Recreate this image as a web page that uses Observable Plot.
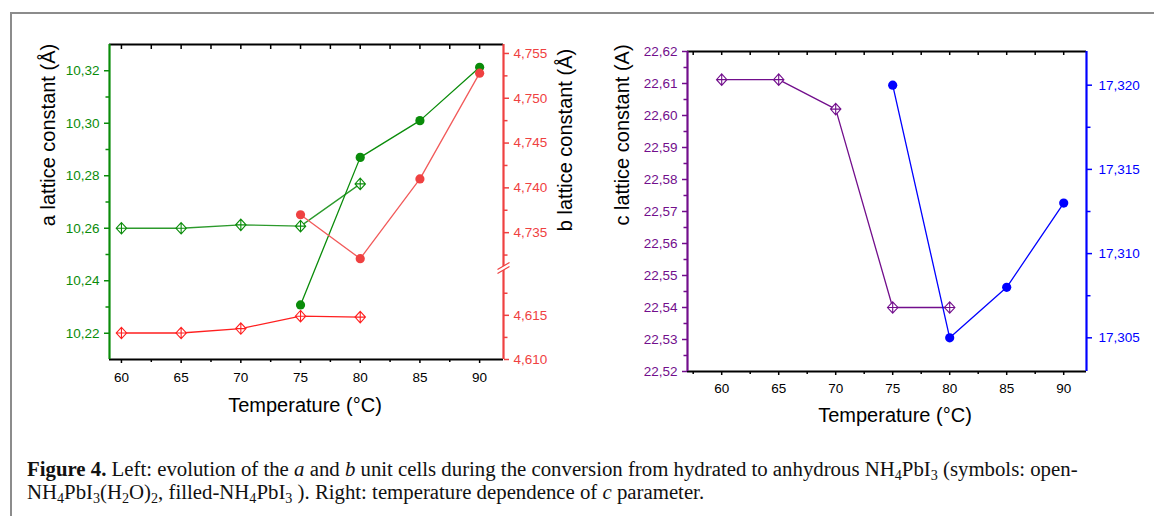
<!DOCTYPE html>
<html><head><meta charset="utf-8">
<script src="https://cdn.jsdelivr.net/npm/d3@7"></script>
<script src="https://cdn.jsdelivr.net/npm/@observablehq/plot@0.6"></script>
<style>
html,body{margin:0;padding:0;background:#fff;}
#fig{position:relative;width:1154px;height:516px;overflow:hidden;background:#fff;font-family:"Liberation Sans",Arial,sans-serif;}
.layer{position:absolute;top:0;}
.layer svg{display:block;max-width:none;}
.title{position:absolute;font-size:20px;line-height:1;white-space:nowrap;color:#000;transform:translate(-50%,-50%);}
.title.rot{transform:translate(-50%,-50%) rotate(-90deg);}
.caption{position:absolute;left:27px;top:457px;font-family:"Liberation Serif","Times New Roman",serif;font-size:20.8px;line-height:23px;color:#111;white-space:nowrap;}
.caption sub{font-size:0.68em;line-height:0;vertical-align:-0.3em;}
.bt{position:absolute;left:10px;top:12px;right:0;height:2px;background:#8c8c8c;}
.bl{position:absolute;left:10px;top:12px;bottom:0;width:2px;background:#8c8c8c;}
</style></head>
<body>
<div id="fig">
  <div class="bt"></div><div class="bl"></div>
</div>
<script>
// ---------- data ----------
const aOpenT = [60, 65, 70, 75, 80];
const aOpenV = [10.2600, 10.2600, 10.2613, 10.2608, 10.2769];
const aFilledT = [75, 80, 85, 90];
const aFilledV = [10.2308, 10.2870, 10.3010, 10.3213];
const bOpenT = [60, 65, 70, 75, 80];
const bOpenV = [4.6130, 4.6130, 4.6135, 4.6149, 4.6148];
const bFilledT = [75, 80, 85, 90];
const bFilledV = [4.7370, 4.7321, 4.7410, 4.7528];
const cOpenT = [60, 65, 70, 75, 80];
const cOpenV = [22.6112, 22.6112, 22.6020, 22.5400, 22.5400];
const cFilledT = [75, 80, 85, 90];
const cFilledV = [17.3200, 17.3050, 17.3080, 17.3130];

// ---------- scales / ticks ----------
const xDomainLeft = [59, 92];
const xDomainRight = [57, 92];
const xTicks = [60, 65, 70, 75, 80, 85, 90];
const xMinorLeft = [62.5, 67.5, 72.5, 77.5, 82.5, 87.5];
const xMinorRight = [57.5, 62.5, 67.5, 72.5, 77.5, 82.5, 87.5];
const aDomain = [10.21, 10.33];
const aTicks = [10.22, 10.24, 10.26, 10.28, 10.30, 10.32];
const aMinor = [10.23, 10.25, 10.27, 10.29, 10.31];
const bUpperDomain = [4.731, 4.756];
const bUpperTicks = [4.735, 4.740, 4.745, 4.750, 4.755];
const bUpperMinor = [4.7325, 4.7375, 4.7425, 4.7475, 4.7525];
const bLowerDomain = [4.610, 4.6203];
const bLowerTicks = [4.610, 4.615];
const bLowerMinor = [4.6125, 4.6175];
const cDomain = [22.52, 22.62];
const cTicks = [22.52, 22.53, 22.54, 22.55, 22.56, 22.57, 22.58, 22.59, 22.60, 22.61, 22.62];
const cMinor = [22.525, 22.535, 22.545, 22.555, 22.565, 22.575, 22.585, 22.595, 22.605, 22.615];
const dDomain = [17.303, 17.322];
const dTicks = [17.305, 17.310, 17.315, 17.320];
const dMinor = [17.3075, 17.3125, 17.3175];

const GREEN = "#0a8c0a", RED = "#ef4141", RED_OPEN = "#ff1f1f", PURPLE = "#720e8c", BLUE = "#0000ff";

const rows = (T, V) => T.map((t, i) => ({T: t, v: V[i]}));
const aOpen = rows(aOpenT, aOpenV), aFilled = rows(aFilledT, aFilledV);
const bOpen = rows(bOpenT, bOpenV), bFilled = rows(bFilledT, bFilledV);
const cOpen = rows(cOpenT, cOpenV), cFilled = rows(cFilledT, cFilledV);

const fmt = n => d => d.toFixed(n).replace(".", ",");
const crossedDiamond = {draw(ctx, size) {
  const r = Math.sqrt(size / Math.PI), h = r * 1.1;
  ctx.moveTo(0, -h); ctx.lineTo(r, 0); ctx.lineTo(0, h); ctx.lineTo(-r, 0); ctx.closePath();
  ctx.moveTo(0, -h); ctx.lineTo(0, h); ctx.moveTo(-r, 0); ctx.lineTo(r, 0);
}};
const breakMask = {draw(ctx) { ctx.moveTo(-7, 1); ctx.lineTo(7, -6); ctx.lineTo(7, -2); ctx.lineTo(-7, 5); ctx.closePath(); }};
const breakSlashes = {draw(ctx) { ctx.moveTo(-6, 1); ctx.lineTo(6, -6); ctx.moveTo(-6, 5); ctx.lineTo(6, -2); }};

const FONT = {background: "transparent", overflow: "visible", fontFamily: "'Liberation Sans', Arial, sans-serif", fontSize: "13.5px"};
const fig = document.getElementById("fig");

function layer({left, width, height, mt, mb, ml, mr, xDomain, yDomain, xAxis, marks}) {
  const svg = Plot.plot({
    width, height, marginTop: mt, marginBottom: mb, marginLeft: ml, marginRight: mr,
    x: xAxis ? {domain: xDomain, label: null} : {domain: xDomain, label: null, axis: null},
    y: {domain: yDomain, label: null},
    style: FONT,
    marks
  });
  const div = document.createElement("div");
  div.className = "layer";
  div.style.left = left + "px";
  div.appendChild(svg);
  fig.appendChild(div);
}

function series(data, color, open, lineColor, lineWidth) {
  return [
    Plot.line(data, {x: "T", y: "v", stroke: lineColor || color, strokeWidth: lineWidth || 1.3}),
    open
      ? Plot.dot(data, {x: "T", y: "v", symbol: crossedDiamond, r: 5.2, stroke: color, fill: "white", strokeWidth: 1.1})
      : Plot.dot(data, {x: "T", y: "v", r: 4.6, fill: color, stroke: "none"})
  ];
}

// ---------- LEFT PANEL ----------
const L = {left: 0, width: 600, height: 430, ml: 109, mr: 97};
const Lmt = 44, Lmb = 71, LplotH = L.height - Lmt - Lmb;
const xAll = [...xTicks, ...xMinorLeft];

layer({...L, mt: Lmt, mb: Lmb, xDomain: xDomainLeft, yDomain: aDomain, xAxis: true, marks: [
  Plot.ruleY([aDomain[1]], {stroke: "black", strokeWidth: 2}),
  Plot.ruleY([aDomain[0]], {stroke: "black", strokeWidth: 2}),
  Plot.ruleX(xAll, {x: d => d, insetBottom: LplotH - 5, stroke: "black", strokeWidth: 1.5}),
  Plot.axisX(xTicks, {anchor: "bottom", tickSize: 4, tickPadding: 9, tickFormat: d => String(d), color: "black", strokeWidth: 1.5, label: null, fontSize: 13.5}),
  Plot.axisX(xMinorLeft, {anchor: "bottom", tickSize: 3, tickFormat: () => "", color: "black", strokeWidth: 1.5, label: null}),
  Plot.axisY(aTicks, {anchor: "left", tickSize: 5, tickPadding: 5, tickFormat: fmt(2), color: GREEN, strokeWidth: 1.5, label: null, fontSize: 13.5}),
  Plot.axisY(aMinor, {anchor: "left", tickSize: 3.5, tickFormat: () => "", color: GREEN, strokeWidth: 1.5, label: null}),
  Plot.ruleX([xDomainLeft[0]], {stroke: GREEN, strokeWidth: 2.2}),
  ...series(aOpen, GREEN, true, "#2c9a2c"),
  ...series(aFilled, GREEN, false)
]});

const upperMb = 430 - 268;
layer({...L, mt: Lmt, mb: upperMb, xDomain: xDomainLeft, yDomain: bUpperDomain, xAxis: false, marks: [
  Plot.axisY(bUpperTicks, {anchor: "right", tickSize: 5, tickPadding: 5, tickFormat: fmt(3), color: RED, strokeWidth: 1.5, label: null, fontSize: 13.5}),
  Plot.axisY(bUpperMinor, {anchor: "right", tickSize: 3.5, tickFormat: () => "", color: RED, strokeWidth: 1.5, label: null}),
  Plot.ruleX([xDomainLeft[1]], {stroke: RED, strokeWidth: 2.2}),
  ...series(bFilled, RED, false, "#f25a5a")
]});

layer({...L, mt: 268, mb: Lmb, xDomain: xDomainLeft, yDomain: bLowerDomain, xAxis: false, marks: [
  Plot.axisY(bLowerTicks, {anchor: "right", tickSize: 5, tickPadding: 5, tickFormat: fmt(3), color: RED, strokeWidth: 1.5, label: null, fontSize: 13.5}),
  Plot.axisY(bLowerMinor, {anchor: "right", tickSize: 3.5, tickFormat: () => "", color: RED, strokeWidth: 1.5, label: null}),
  Plot.ruleX([xDomainLeft[1]], {stroke: RED, strokeWidth: 2.2}),
  ...series(bOpen, RED_OPEN, true),
  Plot.dot([bLowerDomain[1]], {x: () => xDomainLeft[1], y: d => d, symbol: breakMask, r: 5, fill: "white", stroke: "none"}),
  Plot.dot([bLowerDomain[1]], {x: () => xDomainLeft[1], y: d => d, symbol: breakSlashes, r: 5, fill: "none", stroke: RED, strokeWidth: 1.2})
]});

// ---------- RIGHT PANEL ----------
const R = {left: 600, width: 554, height: 430, ml: 87, mr: 68};
const Rmt = 51, Rmb = 59, RplotH = R.height - Rmt - Rmb;
const xAllR = [...xTicks, ...xMinorRight];

layer({...R, mt: Rmt, mb: Rmb, xDomain: xDomainRight, yDomain: cDomain, xAxis: true, marks: [
  Plot.ruleY([cDomain[1]], {stroke: "black", strokeWidth: 2}),
  Plot.ruleY([cDomain[0]], {stroke: "black", strokeWidth: 2}),
  Plot.ruleX(xAllR, {x: d => d, insetBottom: RplotH - 4, stroke: "black", strokeWidth: 1.5}),
  Plot.axisX(xTicks, {anchor: "bottom", tickSize: 4, tickPadding: 8, tickFormat: d => String(d), color: "black", strokeWidth: 1.5, label: null, fontSize: 13.5}),
  Plot.axisX(xMinorRight, {anchor: "bottom", tickSize: 3, tickFormat: () => "", color: "black", strokeWidth: 1.5, label: null}),
  Plot.axisY(cTicks, {anchor: "left", tickSize: 5, tickPadding: 5, tickFormat: fmt(2), color: PURPLE, strokeWidth: 1.5, label: null, fontSize: 13.5}),
  Plot.axisY(cMinor, {anchor: "left", tickSize: 3.5, tickFormat: () => "", color: PURPLE, strokeWidth: 1.5, label: null}),
  Plot.ruleX([xDomainRight[0]], {stroke: PURPLE, strokeWidth: 2.2}),
  ...series(cOpen, PURPLE, true)
]});

layer({...R, mt: Rmt, mb: Rmb, xDomain: xDomainRight, yDomain: dDomain, xAxis: false, marks: [
  Plot.axisY(dTicks, {anchor: "right", tickSize: 5, tickPadding: 7, tickFormat: fmt(3), color: BLUE, strokeWidth: 1.5, label: null, fontSize: 13.5}),
  Plot.axisY(dMinor, {anchor: "right", tickSize: 3.5, tickFormat: () => "", color: BLUE, strokeWidth: 1.5, label: null}),
  Plot.ruleX([xDomainRight[1]], {stroke: BLUE, strokeWidth: 2.2}),
  ...series(cFilled, BLUE, false)
]});

// ---------- titles ----------
function title(text, cx, cy, rot) {
  const d = document.createElement("div");
  d.className = "title" + (rot ? " rot" : "");
  d.textContent = text;
  d.style.left = cx + "px";
  d.style.top = cy + "px";
  fig.appendChild(d);
}
title("a lattice constant (Å)", 48, 135, true);
title("b lattice constant (Å)", 565, 140, true);
title("Temperature (°C)", 305, 405, false);
title("c lattice constant (A)", 622, 135, true);
title("Temperature (°C)", 895, 415, false);

const cap = document.createElement("div");
cap.className = "caption";
cap.innerHTML = '<b>Figure 4.</b> Left: evolution of the <i>a</i> and <i>b</i> unit cells during the conversion from hydrated to anhydrous NH<sub>4</sub>PbI<sub>3</sub> (symbols: open-<br>NH<sub>4</sub>PbI<sub>3</sub>(H<sub>2</sub>O)<sub>2</sub>, filled-NH<sub>4</sub>PbI<sub>3</sub> ). Right: temperature dependence of <i>c</i> parameter.';
fig.appendChild(cap);
</script>
</body></html>
